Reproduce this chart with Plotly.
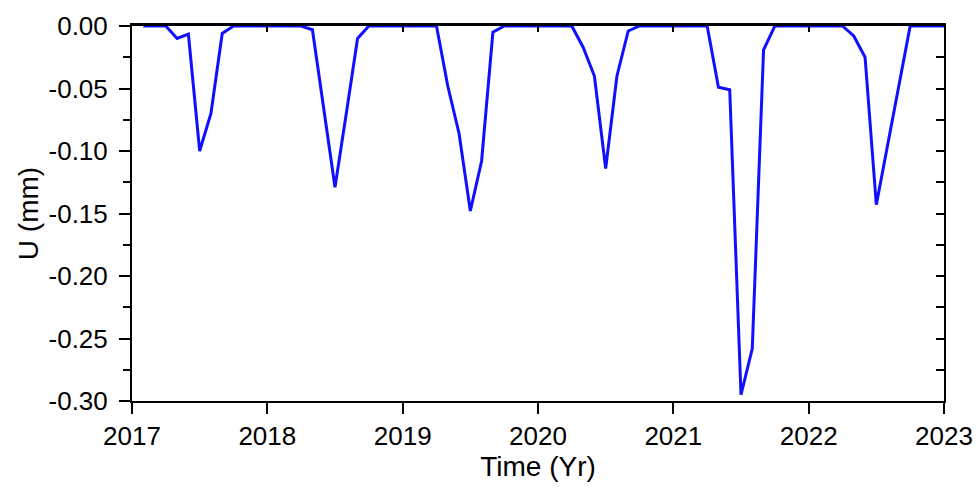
import plotly.graph_objects as go

start_year = 2017
months = list(range(1, 73))
u_mm = [
    0.0, 0.0, 0.0, -0.010, -0.0065, -0.100, -0.070, -0.006, 0.0, 0.0, 0.0, 0.0,
    0.0, 0.0, 0.0, -0.003, -0.064, -0.129, -0.070, -0.010, 0.0, 0.0, 0.0, 0.0,
    0.0, 0.0, 0.0, -0.048, -0.086, -0.148, -0.108, -0.005, 0.0, 0.0, 0.0, 0.0,
    0.0, 0.0, 0.0, -0.017, -0.040, -0.114, -0.040, -0.004, 0.0, 0.0, 0.0, 0.0,
    0.0, 0.0, 0.0, -0.049, -0.051, -0.295, -0.258, -0.019, 0.0, 0.0, 0.0, 0.0,
    0.0, 0.0, 0.0, -0.008, -0.025, -0.143, -0.095, -0.047, 0.0, 0.0, 0.0, 0.0,
]
x_ticks = [2017, 2018, 2019, 2020, 2021, 2022, 2023]
y_ticks = [0.0, -0.05, -0.10, -0.15, -0.20, -0.25, -0.30]
y_ticklabels = ["0.00", "-0.05", "-0.10", "-0.15", "-0.20", "-0.25", "-0.30"]

t = [start_year + m / 12 for m in months]

fig = go.Figure()
fig.add_trace(go.Scatter(x=t, y=u_mm, mode="lines",
                         line=dict(color="#1010FF", width=3), showlegend=False))

font = dict(family="Liberation Sans, Arial, sans-serif", color="black")

fig.update_layout(
    width=978, height=489,
    margin=dict(l=132, r=34, t=26, b=88),
    paper_bgcolor="white", plot_bgcolor="white",
    font=font,
    xaxis=dict(
        range=[2017, 2023], tickvals=x_ticks, ticktext=[str(v) for v in x_ticks],
        ticks="outside", ticklen=11, tickwidth=2, tickcolor="black",
        showline=True, linecolor="black", linewidth=2,
        showgrid=False, zeroline=False,
        tickfont=dict(size=26), title=dict(text="Time (Yr)", font=dict(size=28), standoff=2),
        automargin=False,
    ),
    yaxis=dict(
        range=[-0.30, 0.0], tickvals=y_ticks, ticktext=y_ticklabels,
        ticks="outside", ticklen=11, tickwidth=2, tickcolor="black",
        minor=dict(dtick=0.025, tick0=0, ticks="outside", ticklen=7, tickwidth=2, tickcolor="black"),
        showline=True, linecolor="black", linewidth=2,
        showgrid=False, zeroline=False, ticklabelstandoff=6,
        tickfont=dict(size=26), title=dict(text="U (mm)", font=dict(size=28), standoff=2),
        automargin=False,
    ),
    xaxis2=dict(
        overlaying="x", side="top", range=[2017, 2023], tickvals=x_ticks,
        ticks="inside", ticklen=6, tickwidth=2, tickcolor="black",
        showticklabels=False, showline=True, linecolor="black", linewidth=3,
        showgrid=False, zeroline=False,
    ),
    yaxis2=dict(
        overlaying="y", side="right", range=[-0.30, 0.0], dtick=0.025, tick0=0,
        ticks="inside", ticklen=8, tickwidth=2, tickcolor="black",
        showticklabels=False, showline=True, linecolor="black", linewidth=2,
        showgrid=False, zeroline=False,
    ),
)
fig.add_trace(go.Scatter(x=[2017], y=[0], xaxis="x2", yaxis="y2", mode="markers",
                         marker=dict(opacity=0), showlegend=False, hoverinfo="skip"))

fig.write_html("out.html", config={"displayModeBar": False},
               post_script="document.body.style.margin='0';")
